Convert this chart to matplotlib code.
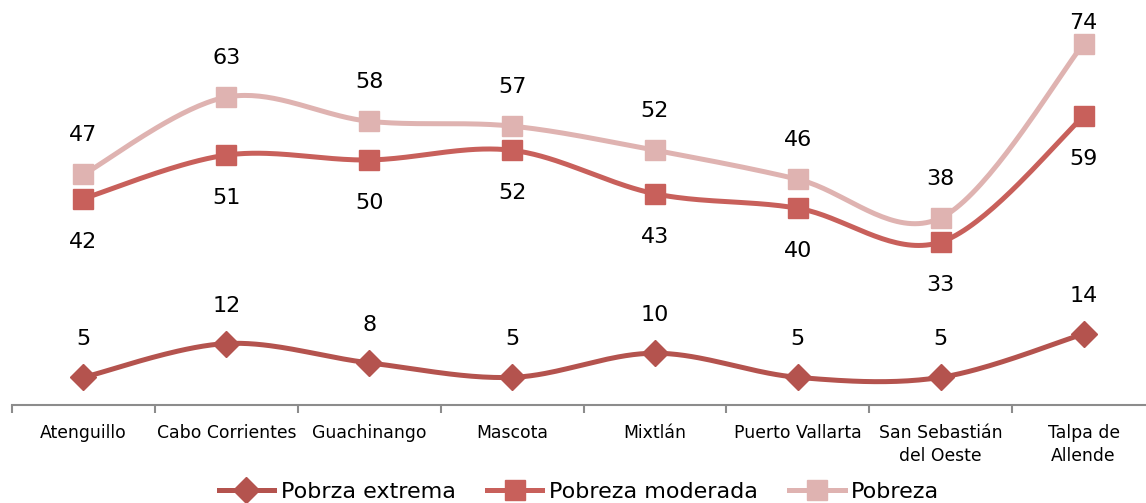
import numpy as np
import matplotlib
matplotlib.use("Agg")
import matplotlib.pyplot as plt
from matplotlib.lines import Line2D

# data
municipios = ["Atenguillo", "Cabo Corrientes", "Guachinango", "Mascota", "Mixtlán",
              "Puerto Vallarta", "San Sebastián\ndel Oeste", "Talpa de\nAllende"]
extrema = [5, 12, 8, 5, 10, 5, 5, 14]
moderada = [42, 51, 50, 52, 43, 40, 33, 59]
pobreza = [47, 63, 58, 57, 52, 46, 38, 74]

c_ext = "#B4534E"
c_mod = "#C8605B"
c_pob = "#DFB3B1"

plt.rcParams['font.family'] = ['DejaVu Sans']

W, H = 1146, 503
fig = plt.figure(figsize=(W / 100, H / 100), dpi=100)
# plot area spans px 12..1155 horizontally (runs past right edge), 98..488 from bottom
ax = fig.add_axes([12 / W, 98 / H, 1143 / W, 390 / H])
ymin, ymax = -0.72, 80
ax.set_xlim(0, len(municipios))
ax.set_ylim(ymin, ymax)

sx = 1143 / len(municipios)
sy = 390 / (ymax - ymin)


def smooth(xs, ys, n=40):
	# catmull-rom style bezier in screen-ish units (like Excel's smoothed line)
	P = np.column_stack([np.asarray(xs, float) * sx, np.asarray(ys, float) * sy])
	out = []
	for i in range(len(P) - 1):
		p0 = P[i - 1] if i > 0 else P[i]
		p1, p2 = P[i], P[i + 1]
		p3 = P[i + 2] if i + 2 < len(P) else P[i + 1]
		c1 = p1 + (p2 - p0) / 6
		c2 = p2 - (p3 - p1) / 6
		t = np.linspace(0, 1, n)[:, None]
		seg = (1 - t) ** 3 * p1 + 3 * (1 - t) ** 2 * t * c1 + 3 * (1 - t) * t ** 2 * c2 + t ** 3 * p2
		out.append(seg if i == 0 else seg[1:])
	arr = np.vstack(out)
	return arr[:, 0] / sx, arr[:, 1] / sy


x = np.arange(len(municipios)) + 0.5
series = [
	(extrema, c_ext, "D", 13, "Pobrza extrema", 38),
	(moderada, c_mod, "s", 14, "Pobreza moderada", -43),
	(pobreza, c_pob, "s", 14, "Pobreza", 39),
]

handles = []
for vals, col, mk, ms, name, off in series:
	lx, ly = smooth(x, vals)
	ax.plot(lx, ly, color=col, lw=3.6, solid_capstyle="round", zorder=2)
	ax.plot(x, vals, ls="none", marker=mk, ms=ms, color=col, mec=col, zorder=3)
	for xi, v in zip(x, vals):
		o = off
		if off > 0:
			# keep labels inside the plot area, as Excel does
			o = min(off, (ymax - v) * sy - 8)
		ax.annotate(str(v), (xi, v), xytext=(0, o), textcoords="offset pixels",
					ha="center", va="center", fontsize=16, color="black")
	handles.append(Line2D([], [], color=col, lw=3.6, marker=mk, ms=ms, mec=col))

for s in ["left", "right", "top"]:
	ax.spines[s].set_visible(False)
ax.spines["bottom"].set_color("#8C8C8C")
ax.spines["bottom"].set_linewidth(1.5)
ax.set_yticks([])
ax.set_xticks(np.arange(len(municipios) + 1))
ax.set_xticklabels([])
ax.set_xticks(x, minor=True)
ax.set_xticklabels(municipios, minor=True, fontsize=12.4, linespacing=1.35)
ax.tick_params(axis="x", which="major", length=6, width=1.5, color="#8C8C8C")
ax.tick_params(axis="x", which="minor", length=0, pad=14)

fig.legend(handles=handles, labels=[s[4] for s in series],
		   loc="center", bbox_to_anchor=(579 / W, 11 / H), ncol=3, frameon=False,
		   fontsize=16, handlelength=2.5, handletextpad=0.3, columnspacing=1.4)

fig.savefig("out.png", dpi=100)
